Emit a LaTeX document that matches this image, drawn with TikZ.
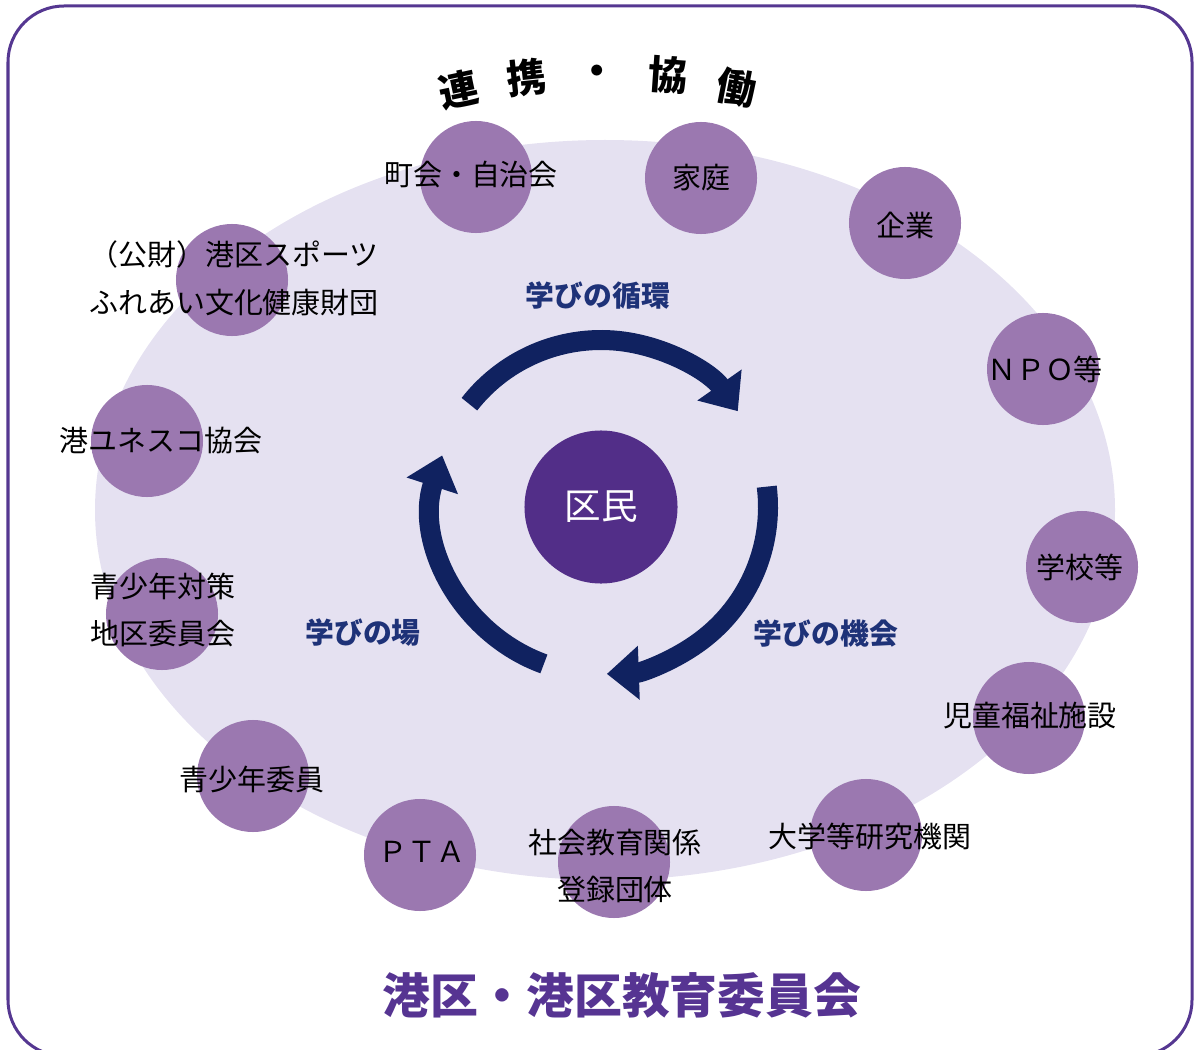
\documentclass[tikz,border=0pt]{standalone}
\usepackage{fontspec}
\setmainfont{Noto Sans CJK JP}
\usetikzlibrary{arrows.meta}
\definecolor{framepurple}{RGB}{85,55,145}
\definecolor{fieldlavender}{RGB}{229,225,241}
\definecolor{orgpurple}{RGB}{155,120,176}
\definecolor{centerpurple}{RGB}{82,46,136}
\definecolor{arrownavy}{RGB}{16,34,96}
\definecolor{labelnavy}{RGB}{30,50,120}
\definecolor{titlepurple}{RGB}{86,52,146}
\begin{document}
\begin{tikzpicture}[
    x=0.025cm, y=-0.025cm,
    org/.style={circle, fill=orgpurple, minimum size=2.8cm, inner sep=0pt},
    orgtext/.style={font=\fontsize{20.6}{34}\selectfont, align=center, text=black},
    cyclelabel/.style={font=\fontsize{20.5}{24}\selectfont\bfseries, text=labelnavy},
    cyclearrow/.style={draw=arrownavy, line width=0.5cm, -{Triangle[length=0pt 1.6, width=0pt 2.6]}},
    titlechar/.style={font=\fontsize{28}{30}\selectfont\bfseries}
]
\useasboundingbox (0,0) rectangle (1195,1050);

% Frame and field
\draw[framepurple, line width=0.075cm, rounded corners=1.4cm] (8,6) rectangle (1192,1056);
\fill[fieldlavender] (605,510) ellipse[x radius=510, y radius=370];

% Title on the arc
\node[titlechar, rotate=12] (ren) at (459,90) {連};
\node[titlechar, rotate=6] (kei) at (527,78) {携};
\node[titlechar] (naka) at (597,75) {・};
\node[titlechar, rotate=-4] (kyo) at (668,75) {協};
\node[titlechar, rotate=-11] (dou) at (737,88) {働};

% Partner circles
\node[org] (chokai) at (476,177) {};
\node[org] (katei) at (701,178) {};
\node[org] (kigyo) at (905,223) {};
\node[org] (npo) at (1043,369) {};
\node[org] (gakko) at (1082,567) {};
\node[org] (jido) at (1029,718) {};
\node[org] (daigaku) at (866,835) {};
\node[org] (shakai) at (614,862) {};
\node[org] (pta) at (420,855) {};
\node[org] (seishonen) at (253,776) {};
\node[org] (chiku) at (162,614) {};
\node[org] (unesco) at (147,441) {};
\node[org] (zaidan) at (232,280) {};

% Partner names
\node[orgtext] (chokai-t) at (471,175) {町会・自治会};
\node[orgtext] (katei-t) at (701,178) {家庭};
\node[orgtext] (kigyo-t) at (905,225) {企業};
\node[orgtext] (npo-t) at (1045,369) {ＮＰＯ等};
\node[orgtext] (gakko-t) at (1080,567) {学校等};
\node[orgtext] (jido-t) at (1030,716) {児童福祉施設};
\node[orgtext] (daigaku-t) at (870,836) {大学等研究機関};
\node[orgtext] (shakai-t) at (615,866) {社会教育関係\\登録団体};
\node[orgtext] (pta-t) at (422,852) {ＰＴＡ};
\node[orgtext] (seishonen-t) at (252,779) {青少年委員};
\node[orgtext] (chiku-t) at (163,610) {青少年対策\\地区委員会};
\node[orgtext] (unesco-t) at (161,441) {港ユネスコ協会};
\node[orgtext] (zaidan-t) at (234,278) {（公財）港区スポーツ\\ふれあい文化健康財団};

% Citizens and the learning cycle
\node[circle, fill=centerpurple, minimum size=3.825cm, text=white, font=\fontsize{26}{30}\selectfont] (kumin) at (601,507) {区民};

\draw[cyclearrow] (kumin.center) ++(-142:167) arc[start angle=-142, end angle=-35, radius=167];
\draw[cyclearrow] (kumin.center) ++(-7:167) arc[start angle=-7, end angle=88, radius=167];
\draw[cyclearrow] (kumin.center) ++(110:167) arc[start angle=110, end angle=198, radius=167];

\node[cyclelabel] (junkan) at (598,295) {学びの循環};
\node[cyclelabel] (kikai) at (826,633) {学びの機会};
\node[cyclelabel] (ba) at (363,633) {学びの場};

% Organiser
\node[font=\fontsize{34}{40}\selectfont\bfseries, text=titlepurple] (minato) at (622,995) {港区・港区教育委員会};

\end{tikzpicture}
\end{document}
